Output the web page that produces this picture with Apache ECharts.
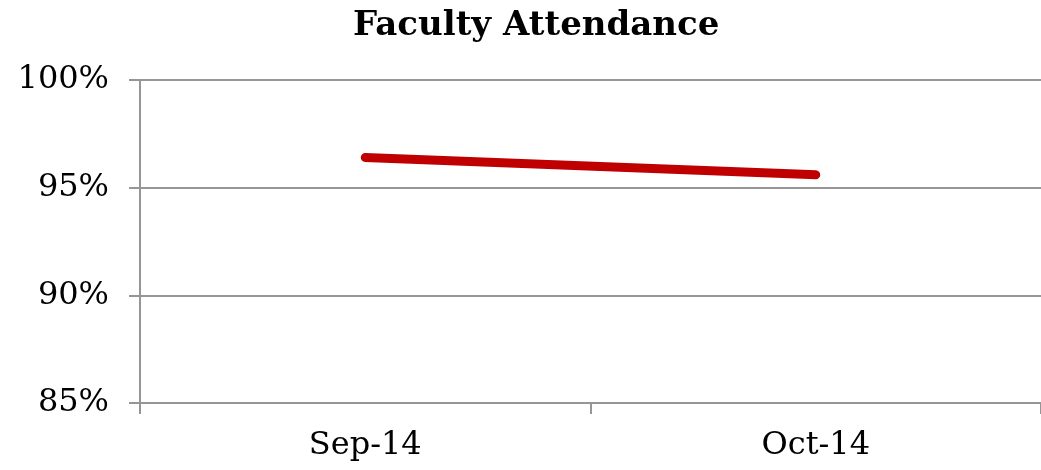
<!DOCTYPE html>
<html>
<head>
<meta charset="utf-8">
<script src="https://cdn.jsdelivr.net/npm/echarts@6/dist/echarts.min.js"></script>
<style>
html,body{margin:0;padding:0;background:#fff;}
#chart{width:1041px;height:470px;}
</style>
</head>
<body>
<div id="chart"></div>
<script>
var categories = ["Sep-14", "Oct-14"];
var attendance = [96.4, 95.6];
var yTicks = [85, 90, 95, 100];

var FONT = "'DejaVu Serif', 'Liberation Serif', serif";
var chart = echarts.init(document.getElementById('chart'), null, {renderer: 'canvas'});
chart.setOption({
  backgroundColor: '#ffffff',
  animation: false,
  title: {
    text: 'Faculty Attendance',
    left: 353,
    top: 9,
    padding: 0,
    textStyle: {fontFamily: FONT, fontWeight: 'bold', fontSize: 34, color: '#000'}
  },
  grid: {left: 140, right: 0, top: 80, bottom: 67, containLabel: false},
  xAxis: {
    type: 'category',
    data: categories,
    boundaryGap: true,
    axisLine: {show: true, lineStyle: {color: '#969696', width: 2}},
    axisTick: {show: true, length: 11, lineStyle: {color: '#969696', width: 2}},
    axisLabel: {fontFamily: FONT, fontSize: 32, color: '#000', margin: 27},
    splitLine: {show: false}
  },
  yAxis: {
    type: 'value',
    min: yTicks[0],
    max: yTicks[yTicks.length - 1],
    interval: 5,
    axisLine: {show: true, lineStyle: {color: '#969696', width: 2}},
    axisTick: {show: true, length: 11, lineStyle: {color: '#969696', width: 2}},
    axisLabel: {fontFamily: FONT, fontSize: 32, color: '#000', margin: 31, formatter: '{value}%'},
    splitLine: {show: true, lineStyle: {color: '#969696', width: 2}}
  },
  series: [{
    type: 'line',
    data: attendance,
    symbol: 'none',
    lineStyle: {color: '#c00000', width: 9, cap: 'round'},
    z: 3
  }]
});
</script>
</body>
</html>
